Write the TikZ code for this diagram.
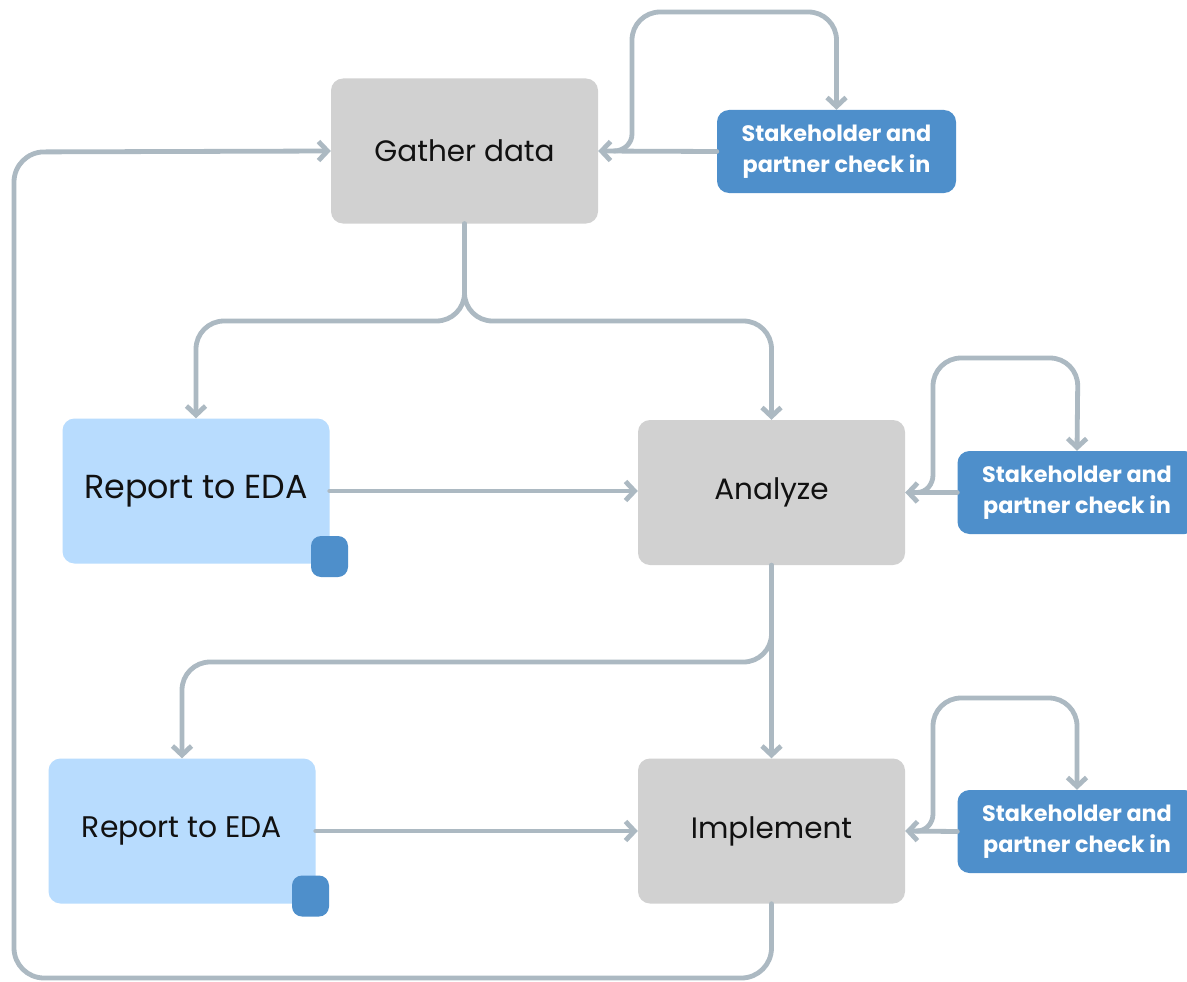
\documentclass[tikz,border=0pt]{standalone}
\usepackage{fontspec}
\setmainfont{Poppins}
\usetikzlibrary{arrows.meta}
\definecolor{boxgray}{HTML}{D1D1D1}
\definecolor{lightblue}{HTML}{B8DCFE}
\definecolor{darkblue}{HTML}{4E8FCB}
\definecolor{linegray}{HTML}{ACB9C2}
\definecolor{textblack}{HTML}{111111}
\tikzset{
  graybox/.style={fill=boxgray, rounded corners=12pt, minimum width=267pt, minimum height=145pt, text=textblack, font=\fontsize{29.5}{34}\selectfont, inner sep=0pt},
  reportbox/.style={fill=lightblue, rounded corners=12pt, minimum width=267pt, minimum height=145pt, text=textblack, inner sep=0pt},
  shbox/.style={fill=darkblue, rounded corners=12pt, minimum width=239pt, minimum height=83pt, text=white, align=center, font=\bfseries\fontsize{22.3}{30.5}\selectfont, inner sep=0pt},
  sqbox/.style={fill=darkblue, rounded corners=10pt, minimum width=37pt, minimum height=41pt, inner sep=0pt},
  conn/.style={draw=linegray, line width=4.8pt, line cap=round, line join=round, -{Straight Barb[length=9pt,width=19pt]}},
}
\begin{document}
\begin{tikzpicture}[x=1pt,y=-1pt]
\clip (0,0) rectangle (1187,982);
\fill[white] (0,0) rectangle (1187,982);

% nodes
\node[graybox] (gather) at (464.5,151) {Gather data};
\node[shbox] (sh1) at (836.5,151.5) {Stakeholder and\\partner check in};
\node[reportbox, font=\fontsize{33.3}{38}\selectfont] (report1) at (196,491) {Report to EDA};
\node[sqbox] (sq1) at (329.5,556.5) {};
\node[graybox] (analyze) at (771.5,492.5) {Analyze};
\node[shbox] (sh2) at (1077,492.5) {Stakeholder and\\partner check in};
\node[reportbox, font=\fontsize{29.8}{34}\selectfont] (report2) at (182,831) {Report to EDA};
\node[sqbox] (sq2) at (310.5,896) {};
\node[graybox] (implement) at (771.5,831) {Implement};
\node[shbox] (sh3) at (1077,831.5) {Stakeholder and\\partner check in};

% junction coordinates
\coordinate (j1) at (614,151);
\coordinate (j2) at (917,492.5);
\coordinate (j3) at (917,831);

% stakeholder 1
\draw[conn] (sh1.west) -- (gather.east);
\draw[conn] (j1) to[out=0,in=270] (632,134) [rounded corners=28pt] -- (632,12) -- (836.5,12) -- (sh1.north);

% gather split
\draw[conn, rounded corners=28pt] (gather.south) -- (464.5,321) -| (report1.north);
\draw[conn, rounded corners=28pt] (gather.south) -- (464.5,321) -| (analyze.north);

% report1 -> analyze
\draw[conn] (report1.east) -- (report1.east -| analyze.west);

% stakeholder 2
\draw[conn] (sh2.west) -- (analyze.east);
\draw[conn] (j2) to[out=0,in=270] (933,475) [rounded corners=28pt] -- (933,358) -- (1078,358) -- (sh2.north);

% analyze -> implement and report2
\draw[conn] (analyze.south) -- (implement.north);
\draw[conn, rounded corners=28pt] (analyze.south) -- (771.5,662) -| (report2.north);

% report2 -> implement
\draw[conn] (report2.east) -- (implement.west);

% stakeholder 3
\draw[conn] (sh3.west) -- (implement.east);
\draw[conn] (j3) to[out=0,in=270] (933,814) [rounded corners=28pt] -- (933,698) -- (1077,698) -- (sh3.north);

% implement -> gather (big loop)
\draw[conn, rounded corners=30pt] (implement.south) -- (771.5,978) -- (14,978) -- (14,152) -- (gather.west);
\end{tikzpicture}
\end{document}
